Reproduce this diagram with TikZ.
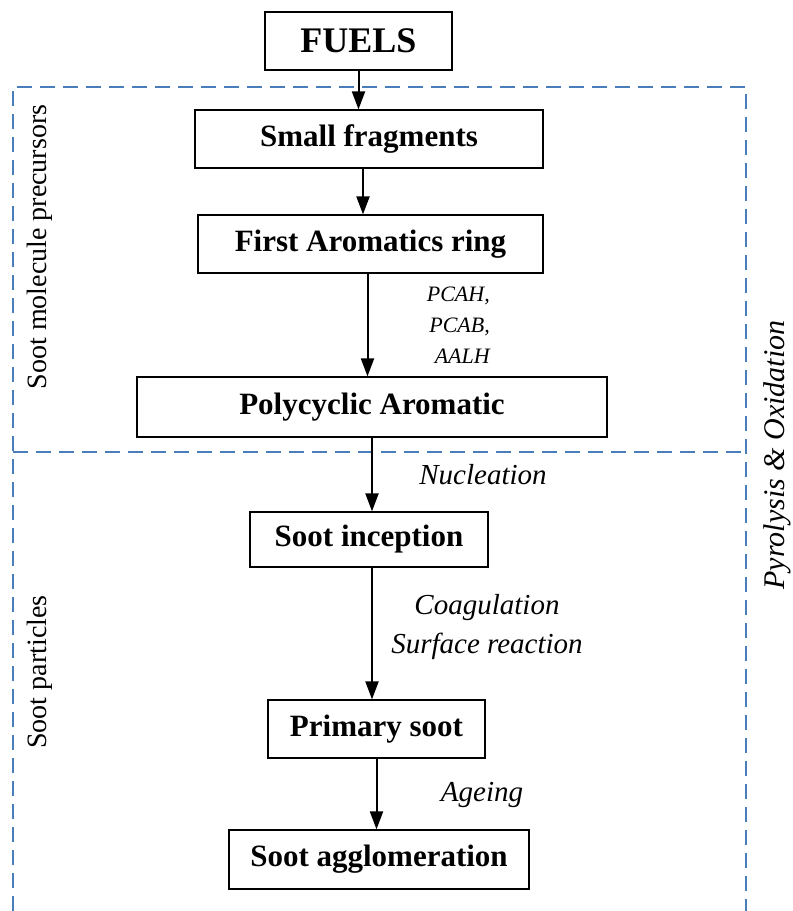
\documentclass[tikz,border=0pt]{standalone}
\usepackage{fontspec}
\setmainfont{Liberation Serif}
\usetikzlibrary{arrows.meta}
\definecolor{zoneblue}{RGB}{74,126,187}
\tikzset{
  box/.style = {draw, line width=1.2pt, inner sep=0pt, minimum height=58pt,
    font=\fontsize{31}{36}\selectfont\bfseries},
  flow/.style = {-{Triangle[length=18pt,width=13pt]}, line width=2pt},
  lbl/.style = {inner sep=0pt, font=\fontsize{29}{39}\selectfont\itshape},
  zone/.style = {zoneblue, line width=2pt, dash pattern=on 15pt off 8pt},
  side/.style = {rotate=90, inner sep=0pt, font=\fontsize{28}{32}\selectfont},
}

\begin{document}
\begin{tikzpicture}[x=1pt, y=-1pt]
			\useasboundingbox (0,0) rectangle (793,911);

			\begin{scope}
				\draw[zone] (13,911) -- (13,87) -- (746,87) -- (746,911);
				\draw[zone] (13,452) -- (746,452);
			\end{scope}

			\node[box, minimum width=187pt, font=\fontsize{36}{40}\selectfont\bfseries] (fuels) at (358.5,41) {FUELS};
			\node[box, minimum width=348pt] (small) at (369,139) {Small fragments};
			\node[box, minimum width=345pt] (ring) at (370.5,244) {First Aromatics ring};
			\node[box, minimum width=470pt, minimum height=60pt] (poly) at (372,407) {Polycyclic Aromatic};
			\node[box, minimum width=238pt, minimum height=55pt] (inception) at (369,539.5) {Soot inception};
			\node[box, minimum width=217pt] (primary) at (376.5,729) {Primary soot};
			\node[box, minimum width=300pt, minimum height=59pt] (agglo) at (379,859.5) {Soot agglomeration};

			\draw[flow] (fuels.south) -- (fuels.south |- small.north);
			\draw[flow] ([xshift=-6pt]small.south) -- ([xshift=-6pt]small.south |- ring.north);
			\draw[flow] ([xshift=-3pt]ring.south) -- ([xshift=-3pt]ring.south |- poly.north);
			\draw[flow] (poly.south) -- (poly.south |- inception.north);
			\draw[flow] ([xshift=3pt]inception.south) -- ([xshift=3pt]inception.south |- primary.north);
			\draw[flow] (primary.south) -- (primary.south |- agglo.north);

			\node[lbl, anchor=east, align=right, font=\fontsize{22}{31}\selectfont\itshape] (species) at (490,325) {PCAH,\\PCAB,\\AALH};
			\node[lbl] (nucleation) at (483,475) {Nucleation};
			\node[lbl, align=center] (growth) at (487,627) {Coagulation\\Surface reaction};
			\node[lbl] (ageing) at (482,795) {Ageing};

			\node[side] (precursors) at (40,247) {Soot molecule precursors};
			\node[side] (particles) at (40,672) {Soot particles};
			\node[side, font=\fontsize{30}{34}\selectfont\itshape] (pyro) at (777,455) {Pyrolysis \& Oxidation};
		\end{tikzpicture}
\end{document}
